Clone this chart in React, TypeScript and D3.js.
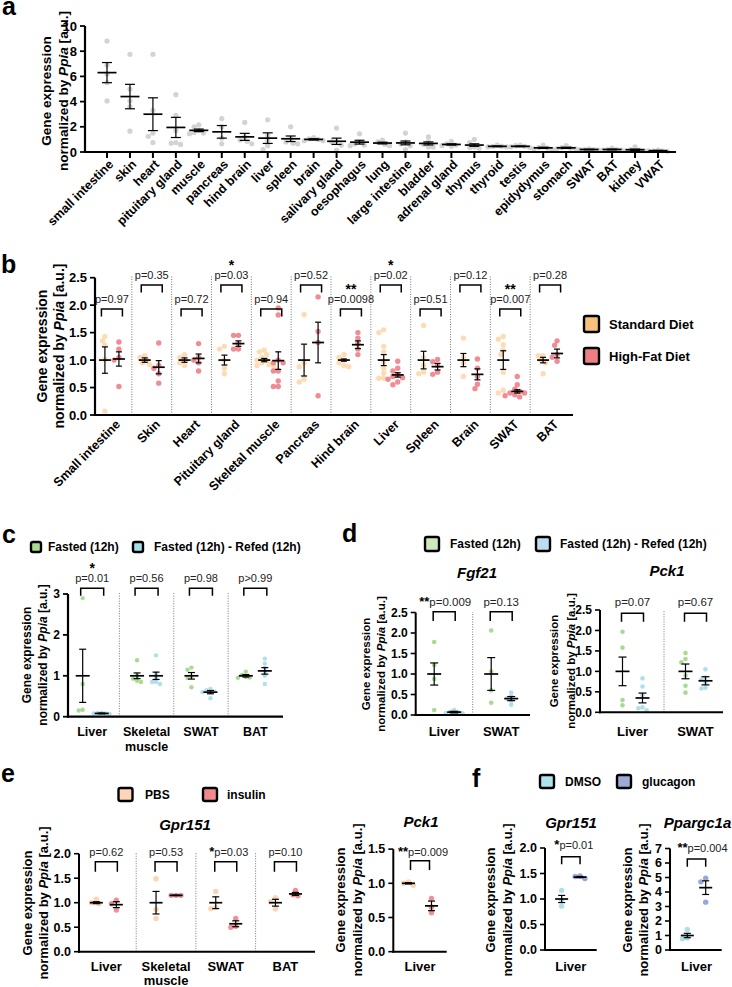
import React from 'react';
import * as d3 from 'd3';

const FONT = "'Liberation Sans', Arial, Helvetica, sans-serif";

// ---------------- Panel a ----------------
const aTissues = ['small intestine', 'skin', 'heart', 'pituitary gland', 'muscle', 'pancreas', 'hind brain', 'liver', 'spleen', 'brain', 'salivary gland', 'oesophagus', 'lung', 'large intestine', 'bladder', 'adrenal gland', 'thymus', 'thyroid', 'testis', 'epidydymus', 'stomach', 'SWAT', 'BAT', 'kidney', 'VWAT'];
const aMean = [6.3, 4.4, 3.0, 1.95, 1.72, 1.6, 1.2, 1.1, 1.05, 1.0, 0.85, 0.78, 0.71, 0.72, 0.68, 0.6, 0.55, 0.45, 0.45, 0.33, 0.33, 0.2, 0.2, 0.18, 0.1];
const aSem = [0.8, 0.97, 1.3, 0.8, 0.1, 0.5, 0.28, 0.42, 0.22, 0.05, 0.25, 0.15, 0.07, 0.15, 0.12, 0.05, 0.1, 0.03, 0.03, 0.05, 0.05, 0.02, 0.03, 0.05, 0.03];
const aPts = [
  [8.8, 6.9, 6.2, 5.5, 4.05], [7.75, 5.0, 4.05, 3.6, 1.65], [7.75, 3.3, 1.5, 1.25, 0.75], [4.55, 2.9, 1.7, 0.75, 0.7, 0.6],
  [2.15, 2.0, 1.7, 1.55, 1.5, 1.45], [2.65, 2.0, 1.1, 0.65], [2.35, 1.2, 0.95, 0.85, 0.65], [2.55, 1.3, 0.9, 0.5, 0.2],
  [2.0, 1.05, 0.8, 0.7, 0.65], [1.15, 1.05, 1.0, 0.9, 0.9], [1.9, 0.85, 0.8, 0.55, 0.15], [1.45, 0.8, 0.65, 0.55, 0.5],
  [0.95, 0.8, 0.6, 0.5], [1.5, 0.8, 0.65, 0.5, 0.2], [1.2, 0.8, 0.6, 0.4, 0.4], [0.85, 0.65, 0.55, 0.5, 0.45],
  [1.0, 0.75, 0.4, 0.35, 0.3], [0.55, 0.45, 0.45, 0.4, 0.4], [0.55, 0.5, 0.45, 0.4, 0.35], [0.55, 0.35, 0.3, 0.25, 0.2],
  [0.5, 0.35, 0.3, 0.25, 0.25], [0.25, 0.2, 0.2, 0.15, 0.2], [0.3, 0.2, 0.2, 0.15, 0.15], [0.4, 0.2, 0.15, 0.1, 0.1],
  [0.15, 0.1, 0.1, 0.05, 0.1],
];
const aTicks = [0, 2, 4, 6, 8, 10];

// ---------------- Panel b ----------------
const bTissues = ['Small intestine', 'Skin', 'Heart', 'Pituitary gland', 'Skeletal muscle', 'Pancreas', 'Hind brain', 'Liver', 'Spleen', 'Brain', 'SWAT', 'BAT'];
const bSdMean = [1, 1, 1, 1, 1, 1, 1, 1, 1, 1, 1, 1];
const bSdSem = [0.24, 0.04, 0.04, 0.09, 0.03, 0.29, 0.02, 0.1, 0.16, 0.12, 0.17, 0.05];
const bSdPts = [
  [1.43, 1.35, 1.27, 1.01, 0.07], [1.08, 1.05, 1.0, 0.95, 0.92], [1.1, 1.05, 1.0, 0.95, 0.9], [1.25, 1.2, 1.0, 0.85, 0.75],
  [1.18, 1.15, 1.1, 1.05, 1.0, 1.0, 0.95, 0.92, 0.9, 0.88], [1.83, 0.95, 0.88, 0.65, 0.6], [1.1, 1.05, 1.0, 0.95, 0.9, 0.88],
  [1.55, 1.5, 1.25, 1.15, 0.97, 0.85, 0.76, 0.67, 0.67], [1.63, 1.05, 0.9, 0.78, 0.75], [1.4, 1.05, 0.95, 0.7],
  [1.43, 1.38, 1.28, 1.18, 1.1, 0.78, 0.45, 0.4], [1.08, 1.08, 1.0, 0.95, 0.75],
];
const bHfdMean = [1.02, 0.87, 1.03, 1.3, 0.99, 1.32, 1.28, 0.73, 0.88, 0.74, 0.43, 1.12];
const bHfdSem = [0.13, 0.12, 0.08, 0.05, 0.16, 0.37, 0.07, 0.04, 0.06, 0.1, 0.03, 0.08];
const bHfdPts = [
  [1.33, 1.2, 1.05, 1.0, 0.52], [1.31, 0.9, 0.85, 0.75, 0.58], [1.3, 1.05, 1.0, 0.95, 0.8], [1.45, 1.45, 1.3, 1.2, 1.2],
  [1.95, 1.82, 1.0, 0.95, 0.95, 0.8, 0.8, 0.62, 0.52, 0.52], [2.15, 1.52, 1.32, 0.35], [1.5, 1.4, 1.3, 1.2, 1.1],
  [0.98, 0.85, 0.8, 0.73, 0.7, 0.68, 0.65, 0.6, 0.55], [1.01, 0.97, 0.9, 0.78, 0.74], [1.02, 0.85, 0.7, 0.56, 0.48],
  [0.7, 0.55, 0.47, 0.43, 0.4, 0.37, 0.35, 0.33, 0.4], [1.35, 1.27, 1.1, 1.05, 0.98],
];
const bP = ['p=0.97', 'p=0.35', 'p=0.72', 'p=0.03', 'p=0.94', 'p=0.52', 'p=0.0098', 'p=0.02', 'p=0.51', 'p=0.12', 'p=0.007', 'p=0.28'];
const bStars = ['', '', '', '*', '', '', '**', '*', '', '', '**', ''];
const bTicks = [0, 0.5, 1, 1.5, 2, 2.5];

// ---------------- Panel c ----------------
const cGroups = ['Liver', 'Skeletal\nmuscle', 'SWAT', 'BAT'];
const cFastMean = [1.0, 1.0, 1.0, 1.0];
const cFastSem = [0.65, 0.07, 0.08, 0.03];
const cFastPts = [[2.9, 0.8, 0.15, 0.17], [1.38, 1.0, 0.93, 0.88, 0.85], [1.2, 1.15, 0.98, 0.95, 0.72], [1.1, 1.02, 0.97, 0.95, 0.96]];
const cRefMean = [0.08, 1.0, 0.6, 1.12];
const cRefSem = [0.01, 0.09, 0.04, 0.08];
const cRefPts = [[0.08, 0.07, 0.09, 0.08, 0.1], [1.5, 1.05, 0.95, 0.85, 0.8, 0.85], [0.68, 0.65, 0.62, 0.6, 0.45], [1.42, 1.3, 1.2, 1.1, 1.0, 0.8]];
const cP = ['p=0.01', 'p=0.56', 'p=0.98', 'p>0.99'];
const cStars = ['*', '', '', ''];
const cTicks = [0, 1, 2, 3];

// ---------------- Panel d ----------------
const dGroups = ['Liver', 'SWAT'];
const dFgfFastMean = [1.0, 1.0];
const dFgfFastSem = [0.27, 0.4];
const dFgfFastPts = [[1.78, 1.22, 0.88, 0.12], [2.06, 1.06, 0.6, 0.3]];
const dFgfRefMean = [0.07, 0.4];
const dFgfRefSem = [0.02, 0.05];
const dFgfRefPts = [[0.12, 0.08, 0.06, 0.05, 0.04], [0.55, 0.45, 0.4, 0.35, 0.25]];
const dFgfP = ['p=0.009', 'p=0.13'];
const dFgfStars = ['**', ''];
const dPckFastMean = [1.0, 1.0];
const dPckFastSem = [0.35, 0.18];
const dPckFastPts = [[1.97, 1.58, 0.3, 0.17], [1.45, 1.3, 1.22, 0.9, 0.65, 0.48]];
const dPckRefMean = [0.35, 0.77];
const dPckRefSem = [0.12, 0.1];
const dPckRefPts = [[0.83, 0.63, 0.42, 0.12, 0.05, 0.1], [1.05, 0.85, 0.8, 0.72, 0.6, 0.58]];
const dPckP = ['p=0.07', 'p=0.67'];
const dPckStars = ['', ''];
const dTicks = [0, 0.5, 1, 1.5, 2, 2.5];

// ---------------- Panel e ----------------
const eGroups = ['Liver', 'Skeletal\nmuscle', 'SWAT', 'BAT'];
const ePbsMean = [1.0, 1.0, 1.0, 1.0];
const ePbsSem = [0.02, 0.23, 0.12, 0.07];
const ePbsPts = [[1.07, 1.0, 0.98], [1.49, 0.86, 0.68], [1.23, 0.88, 0.9], [1.1, 1.02, 0.87]];
const eInsMean = [0.96, 1.15, 0.57, 1.18];
const eInsSem = [0.06, 0.005, 0.06, 0.03];
const eInsPts = [[1.05, 0.98, 0.85], [1.15, 1.15, 1.15], [0.68, 0.52, 0.5], [1.25, 1.16, 1.14]];
const eP = ['p=0.62', 'p=0.53', 'p=0.03', 'p=0.10'];
const eStars = ['', '', '*', ''];
const eTicks = [0, 0.5, 1, 1.5, 2];
const ePckGroups = ['Liver'];
const ePckPbsMean = [1.0];
const ePckPbsSem = [0.01];
const ePckPbsPts = [[1.02, 1.0, 0.97]];
const ePckInsMean = [0.67];
const ePckInsSem = [0.07];
const ePckInsPts = [[0.78, 0.65, 0.57]];
const ePckP = ['p=0.009'];
const ePckStars = ['**'];
const ePckTicks = [0, 0.5, 1, 1.5];

// ---------------- Panel f ----------------
const fGroups = ['Liver'];
const fGprDmsoMean = [1.0];
const fGprDmsoSem = [0.07];
const fGprDmsoPts = [[1.17, 0.97, 0.86]];
const fGprGlucMean = [1.43];
const fGprGlucSem = [0.012];
const fGprGlucPts = [[1.45, 1.44, 1.4]];
const fGprP = ['p=0.01'];
const fGprStars = ['*'];
const fGprTicks = [0, 0.5, 1, 1.5, 2];
const fPpaDmsoMean = [1.0];
const fPpaDmsoSem = [0.15];
const fPpaDmsoPts = [[1.42, 0.82, 0.78]];
const fPpaGlucMean = [4.3];
const fPpaGlucSem = [0.47];
const fPpaGlucPts = [[4.95, 4.7, 3.3]];
const fPpaP = ['p=0.004'];
const fPpaStars = ['**'];
const fPpaTicks = [0, 1, 2, 3, 4, 5, 6, 7];

// ---------------- helpers ----------------
function swarm(vals: number[], y: (v: number) => number, r: number): number[] {
  const ys = vals.map(y);
  const order = d3.range(vals.length).sort((a, b) => ys[a] - ys[b]);
  const xs = new Array(vals.length).fill(0);
  const placed: number[] = [];
  const cands = [0];
  for (let k = 1; k < 10; k++) cands.push(-k * r * 0.9, k * r * 0.9);
  const minD = r * 1.75;
  for (const i of order) {
    for (const c of cands) {
      if (placed.every(j => Math.hypot(xs[j] - c, ys[j] - ys[i]) >= minD)) { xs[i] = c; break; }
    }
    placed.push(i);
  }
  return xs;
}

function YLabel({ x1, x2, cy, font }: any) {
  return (
    <g fontFamily={FONT} fontWeight="bold" fontSize={font} fill="#000">
      <text transform={`translate(${x1},${cy}) rotate(-90)`} textAnchor="middle" dy="0.35em">Gene expression</text>
      <text transform={`translate(${x2},${cy}) rotate(-90)`} textAnchor="middle" dy="0.35em">
        normalized by <tspan fontStyle="italic">Ppia</tspan> [a.u.]
      </text>
    </g>
  );
}

function Legend({ items, font }: any) {
  return (
    <g fontFamily={FONT} fontWeight="bold" fontSize={font}>
      {items.map((it: any, i: number) => (
        <g key={i}>
          <rect x={it.x} y={it.y} width={it.w} height={it.h} rx={2} fill={it.fill} stroke="#000" strokeWidth={2.4} />
          <text x={it.tx} y={it.y + it.h / 2} dy="0.35em">{it.text}</text>
        </g>
      ))}
    </g>
  );
}

function ScatterPanel(p: any) {
  const y = d3.scaleLinear().domain([0, p.yMax]).range([p.y0, p.y1]);
  const xb = d3.scaleBand<string>().domain(p.groups).range(p.band);
  const bw = xb.bandwidth();
  const cx = (g: string) => (xb(g) as number) + bw / 2;
  const ns = p.series.length;
  const els: any[] = [];
  if (p.sep) {
    for (let i = 1; i < p.groups.length; i++) {
      const x = xb(p.groups[i]) as number;
      els.push(<line key={'sep' + i} x1={x} x2={x} y1={p.y0} y2={p.sepTop} stroke="#555" strokeWidth={0.8} strokeDasharray="1,1.5" />);
    }
  }
  // points
  p.series.forEach((s: any, si: number) => {
    const off = ns === 1 ? 0 : (si - (ns - 1) / 2) * 2 * p.offset;
    p.groups.forEach((g: string, gi: number) => {
      const vals: number[] = s.pts[gi];
      const dx = swarm(vals, y, p.r);
      vals.forEach((v, k) => {
        els.push(<circle key={`pt${si}-${gi}-${k}`} cx={cx(g) + off + dx[k]} cy={y(v)} r={p.r} fill={s.color} fillOpacity={s.op ?? 0.85} />);
      });
    });
  });
  // mean + sem
  p.series.forEach((s: any, si: number) => {
    const off = ns === 1 ? 0 : (si - (ns - 1) / 2) * 2 * p.offset;
    p.groups.forEach((g: string, gi: number) => {
      const x = cx(g) + off;
      const m = s.means[gi];
      const e = s.sems[gi];
      const yt = y(m + e), ybm = y(Math.max(0, m - e)), ym = y(m);
      els.push(
        <g key={`err${si}-${gi}`} stroke="#000" fill="none">
          <line x1={x} x2={x} y1={yt} y2={ybm} strokeWidth={1.2} />
          <line x1={x - p.capW / 2} x2={x + p.capW / 2} y1={yt} y2={yt} strokeWidth={1.2} />
          <line x1={x - p.capW / 2} x2={x + p.capW / 2} y1={ybm} y2={ybm} strokeWidth={1.2} />
          <line x1={x - p.meanW / 2} x2={x + p.meanW / 2} y1={ym} y2={ym} strokeWidth={1.7} />
        </g>
      );
    });
  });
  // brackets
  if (p.br) {
    const br = p.br;
    p.groups.forEach((g: string, gi: number) => {
      const c = cx(g);
      const top = br.barY(gi);
      els.push(<path key={'br' + gi} d={`M${c - br.half},${top + br.leg}V${top}H${c + br.half}V${top + br.leg}`} fill="none" stroke="#000" strokeWidth={1.5} />);
      const ty = br.textY(gi) + 4;
      const star = br.stars[gi];
      if (br.starMode === 'above' || !star) {
        els.push(<text key={'pt' + gi} x={c + (br.pShift || 0)} y={ty} textAnchor="middle" fontFamily={FONT} fontSize={br.font} fill="#222">{br.p[gi]}</text>);
        if (star) els.push(<text key={'st' + gi} x={c} y={br.starY(gi) + 6} textAnchor="middle" fontFamily={FONT} fontSize={14} fontWeight="bold">{star}</text>);
      } else {
        els.push(
          <text key={'pt' + gi} x={c + (br.lShift || 0)} y={ty} textAnchor="middle" fontFamily={FONT} fontSize={br.font} fill="#222">
            <tspan fontSize={13} fontWeight="bold" fill="#000">{star}</tspan>
            <tspan>{br.p[gi]}</tspan>
          </text>
        );
      }
    });
  }
  // axes
  els.push(<line key="yax" x1={p.axisX} x2={p.axisX} y1={p.y0 + 1} y2={p.y1} stroke="#000" strokeWidth={p.aw} />);
  els.push(<line key="xax" x1={p.axisX - p.aw / 2} x2={p.axisEnd} y1={p.y0} y2={p.y0} stroke="#000" strokeWidth={p.aw} />);
  p.ticks.forEach((t: number, i: number) => {
    els.push(<line key={'yt' + i} x1={p.axisX - 5} x2={p.axisX} y1={y(t)} y2={y(t)} stroke="#000" strokeWidth={p.aw * 0.8} />);
    els.push(<text key={'ytl' + i} x={p.axisX - 8} y={y(t)} dy="0.35em" textAnchor="end" fontFamily={FONT} fontWeight="bold" fontSize={p.tickFont}>{p.fmt(t)}</text>);
  });
  p.groups.forEach((g: string, gi: number) => {
    const c = cx(g);
    if (p.xTicks) els.push(<line key={'xt' + gi} x1={c} x2={c} y1={p.y0} y2={p.y0 + 6} stroke="#000" strokeWidth={p.aw * 0.9} />);
    if (p.labelMode === 'rot') {
      els.push(
        <text key={'xl' + gi} transform={`translate(${c + p.rotDx},${p.labelY}) rotate(-45)`} textAnchor="end" dy="0.35em" fontFamily={FONT} fontWeight="bold" fontSize={p.labelFont}>{g}</text>
      );
    } else {
      const lines = g.split('\n');
      els.push(
        <text key={'xl' + gi} textAnchor="middle" fontFamily={FONT} fontWeight="bold" fontSize={p.labelFont}>
          {lines.map((ln, li) => <tspan key={li} x={c} y={p.labelY + li * (p.lineGap || p.labelFont + 2)}>{ln}</tspan>)}
        </text>
      );
    }
  });
  if (p.title) {
    els.push(<text key="title" x={p.title.x} y={p.title.y} textAnchor="middle" dy="0.35em" fontFamily={FONT} fontWeight="bold" fontStyle="italic" fontSize={15}>{p.title.text}</text>);
  }
  return <g>{els}</g>;
}

const f1 = d3.format('.1f');
const f0 = d3.format('d');

const C = {
  gray: '#cbcbcb',
  sd: '#fcd09c', hfd: '#ec6f78',
  fast: '#9fd784', ref: '#a6dbea',
  pbs: '#fccfab', ins: '#ec7c84',
  dmso: '#a6dde8', gluc: '#8e9dd6',
};

export default function App() {
  return (
    <svg width={732} height={987} style={{ position: 'absolute', left: 0, top: 0, background: '#fff' }}>
      <rect width={732} height={987} fill="#fff" />
      {/* panel letters */}
      <g fontFamily={FONT} fontWeight="bold" fontSize={25}>
        <text x={2} y={15}>a</text>
        <text x={1} y={273}>b</text>
        <text x={2} y={543}>c</text>
        <text x={342} y={542}>d</text>
        <text x={1} y={782}>e</text>
        <text x={472} y={787}>f</text>
      </g>

      {/* ---------- a ---------- */}
      <ScatterPanel
        groups={aTissues} yMax={10} y0={152} y1={26} ticks={aTicks} fmt={f0} tickFont={13}
        axisX={85} axisEnd={676} aw={2.2} band={[107 - 11.48, 658 + 11.48]}
        series={[{ means: aMean, sems: aSem, pts: aPts, color: C.gray, op: 0.85 }]}
        offset={0} meanW={19} capW={10} r={2.6} xTicks labelMode="rot" rotDx={4} labelY={162} labelFont={12.5}
      />
      <YLabel x1={46} x2={63} cy={91} font={13.6} />

      {/* ---------- b ---------- */}
      <ScatterPanel
        groups={bTissues} yMax={2.5} y0={415} y1={277.7} ticks={bTicks} fmt={f1} tickFont={13}
        axisX={95} axisEnd={573} aw={2.2} band={[92, 570]}
        series={[
          { means: bSdMean, sems: bSdSem, pts: bSdPts, color: C.sd, op: 0.75 },
          { means: bHfdMean, sems: bHfdSem, pts: bHfdPts, color: C.hfd, op: 0.8 },
        ]}
        offset={7} meanW={12} capW={6} r={2.7} sep sepTop={276}
        labelMode="rot" rotDx={6} labelY={422} labelFont={12.5}
        br={{
          p: bP, stars: bStars, starMode: 'above', font: 11, half: 10.5, leg: 7.5,
          barY: (i: number) => (i % 2 === 0 ? 309 : 285),
          textY: (i: number) => (i % 2 === 0 ? 299 : 275),
          starY: (i: number) => (i % 2 === 0 ? 288 : 264),
        }}
      />
      <YLabel x1={42} x2={59} cy={346} font={14} />
      <Legend font={13} items={[
        { x: 584, y: 316, w: 15, h: 16, fill: '#f8c07d', tx: 609, text: 'Standard Diet' },
        { x: 584, y: 348, w: 15, h: 16, fill: '#ef7f86', tx: 609, text: 'High-Fat Diet' },
      ]} />

      {/* ---------- c ---------- */}
      <Legend font={12} items={[
        { x: 31, y: 542, w: 10, h: 10, fill: '#a8dc8f', tx: 48, text: 'Fasted (12h)' },
        { x: 133, y: 542, w: 10, h: 10, fill: '#a6dfec', tx: 154, text: 'Fasted (12h) - Refed (12h)' },
      ]} />
      <ScatterPanel
        groups={cGroups} yMax={3} y0={716.7} y1={594} ticks={cTicks} fmt={f0} tickFont={12}
        axisX={68} axisEnd={283} aw={2.2} band={[65, 282.5]}
        series={[
          { means: cFastMean, sems: cFastSem, pts: cFastPts, color: C.fast, op: 0.9 },
          { means: cRefMean, sems: cRefSem, pts: cRefPts, color: C.ref, op: 0.9 },
        ]}
        offset={9.5} meanW={14} capW={7} r={2.2} sep sepTop={593}
        labelMode="hor" labelY={736} labelFont={12.5}
        br={{
          p: cP, stars: cStars, starMode: 'above', font: 11, half: 11.5, leg: 7.4,
          barY: () => 588.3, textY: () => 578.3, starY: () => 566.7,
        }}
      />
      <YLabel x1={27} x2={43} cy={655} font={12} />

      {/* ---------- d ---------- */}
      <Legend font={12} items={[
        { x: 425, y: 537, w: 14, h: 14, fill: '#cbe9bd', tx: 450, text: 'Fasted (12h)' },
        { x: 536, y: 537, w: 14, h: 14, fill: '#c0dbef', tx: 560, text: 'Fasted (12h) - Refed (12h)' },
      ]} />
      <ScatterPanel
        groups={dGroups} yMax={2.5} y0={715} y1={612.5} ticks={dTicks} fmt={f1} tickFont={12}
        axisX={415.7} axisEnd={530} aw={2} band={[415.7, 529.7]}
        series={[
          { means: dFgfFastMean, sems: dFgfFastSem, pts: dFgfFastPts, color: C.fast, op: 0.9 },
          { means: dFgfRefMean, sems: dFgfRefSem, pts: dFgfRefPts, color: C.ref, op: 0.9 },
        ]}
        offset={10} meanW={14} capW={8} r={2.3} sep sepTop={612}
        labelMode="hor" labelY={736} labelFont={13}
        title={{ text: 'Fgf21', x: 477, y: 573 }}
        br={{
          p: dFgfP, stars: dFgfStars, starMode: 'left', font: 11.5, half: 11, leg: 9.3, lShift: 1,
          barY: () => 611.7, textY: () => 601.7, starY: () => 597,
        }}
      />
      <YLabel x1={366} x2={381} cy={664} font={11.5} />
      <ScatterPanel
        groups={dGroups} yMax={2.5} y0={712.3} y1={610} ticks={dTicks} fmt={f1} tickFont={12}
        axisX={600} axisEnd={723} aw={2} band={[601, 727]}
        series={[
          { means: dPckFastMean, sems: dPckFastSem, pts: dPckFastPts, color: C.fast, op: 0.9 },
          { means: dPckRefMean, sems: dPckRefSem, pts: dPckRefPts, color: C.ref, op: 0.9 },
        ]}
        offset={10} meanW={14} capW={8} r={2.3} sep sepTop={610}
        labelMode="hor" labelY={736} labelFont={13}
        title={{ text: 'Pck1', x: 667, y: 571 }}
        br={{
          p: dPckP, stars: dPckStars, starMode: 'left', font: 11.5, half: 11, leg: 8.4,
          barY: () => 613.3, textY: () => 601.7, starY: () => 597,
        }}
      />
      <YLabel x1={554} x2={571} cy={661} font={11.5} />

      {/* ---------- e ---------- */}
      <Legend font={12} items={[
        { x: 118.5, y: 788, w: 14, h: 13, fill: '#fdd6b8', tx: 145, text: 'PBS' },
        { x: 203, y: 788, w: 14, h: 13, fill: '#f08a8f', tx: 227, text: 'insulin' },
      ]} />
      <ScatterPanel
        groups={eGroups} yMax={2} y0={951.7} y1={853.7} ticks={eTicks} fmt={f1} tickFont={12.5}
        axisX={79} axisEnd={315} aw={2} band={[76.5, 315.3]}
        series={[
          { means: ePbsMean, sems: ePbsSem, pts: ePbsPts, color: C.pbs, op: 0.9 },
          { means: eInsMean, sems: eInsSem, pts: eInsPts, color: C.ins, op: 0.85 },
        ]}
        offset={10} meanW={13} capW={7} r={2.7} sep sepTop={853}
        labelMode="hor" labelY={970.5} lineGap={14} labelFont={13}
        title={{ text: 'Gpr151', x: 185, y: 824.5 }}
        br={{
          p: eP, stars: eStars, starMode: 'left', font: 11, half: 11, leg: 10, lShift: 3,
          barY: () => 861.7, textY: () => 852.3, starY: () => 848,
        }}
      />
      <YLabel x1={27} x2={43} cy={903} font={13} />
      <ScatterPanel
        groups={ePckGroups} yMax={1.5} y0={951.7} y1={849.1} ticks={ePckTicks} fmt={f1} tickFont={12.5}
        axisX={393.3} axisEnd={446.7} aw={2} band={[393.3, 446.7]}
        series={[
          { means: ePckPbsMean, sems: ePckPbsSem, pts: ePckPbsPts, color: C.pbs, op: 0.9 },
          { means: ePckInsMean, sems: ePckInsSem, pts: ePckInsPts, color: C.ins, op: 0.85 },
        ]}
        offset={11.5} meanW={13} capW={7} r={2.7}
        labelMode="hor" labelY={971} labelFont={13}
        title={{ text: 'Pck1', x: 421, y: 822 }}
        br={{
          p: ePckP, stars: ePckStars, starMode: 'left', font: 11, half: 9.5, leg: 9.3, lShift: 3,
          barY: () => 860.7, textY: () => 851.7, starY: () => 846.7,
        }}
      />
      <YLabel x1={340} x2={357} cy={900} font={13} />

      {/* ---------- f ---------- */}
      <Legend font={12} items={[
        { x: 540, y: 775, w: 14, h: 13, fill: '#aee2ec', tx: 565, text: 'DMSO' },
        { x: 617, y: 775, w: 14, h: 13, fill: '#9ea9d8', tx: 642, text: 'glucagon' },
      ]} />
      <ScatterPanel
        groups={fGroups} yMax={2} y0={950} y1={848} ticks={fGprTicks} fmt={f1} tickFont={12.5}
        axisX={545} axisEnd={596.7} aw={2} band={[545, 596.7]}
        series={[
          { means: fGprDmsoMean, sems: fGprDmsoSem, pts: fGprDmsoPts, color: C.dmso, op: 0.9 },
          { means: fGprGlucMean, sems: fGprGlucSem, pts: fGprGlucPts, color: C.gluc, op: 0.9 },
        ]}
        offset={9.2} meanW={13} capW={7} r={2.7}
        labelMode="hor" labelY={970.5} labelFont={13}
        title={{ text: 'Gpr151', x: 571, y: 822.5 }}
        br={{
          p: fGprP, stars: fGprStars, starMode: 'left', font: 11, half: 9.2, leg: 7.6, lShift: 3,
          barY: () => 856.7, textY: () => 845, starY: () => 838,
        }}
      />
      <YLabel x1={490} x2={507} cy={900} font={13} />
      <ScatterPanel
        groups={fGroups} yMax={7} y0={950} y1={848.5} ticks={fPpaTicks} fmt={f0} tickFont={12.5}
        axisX={670} axisEnd={721.7} aw={2} band={[668, 725]}
        series={[
          { means: fPpaDmsoMean, sems: fPpaDmsoSem, pts: fPpaDmsoPts, color: C.dmso, op: 0.9 },
          { means: fPpaGlucMean, sems: fPpaGlucSem, pts: fPpaGlucPts, color: C.gluc, op: 0.9 },
        ]}
        offset={9.2} meanW={13} capW={7} r={2.7}
        labelMode="hor" labelY={970.5} labelFont={13}
        title={{ text: 'Ppargc1a', x: 697.5, y: 822.5 }}
        br={{
          p: fPpaP, stars: fPpaStars, starMode: 'left', font: 11, half: 9.2, leg: 7.7, lShift: 6,
          barY: () => 859, textY: () => 848.3, starY: () => 843,
        }}
      />
      <YLabel x1={627} x2={643} cy={900} font={13} />
    </svg>
  );
}
